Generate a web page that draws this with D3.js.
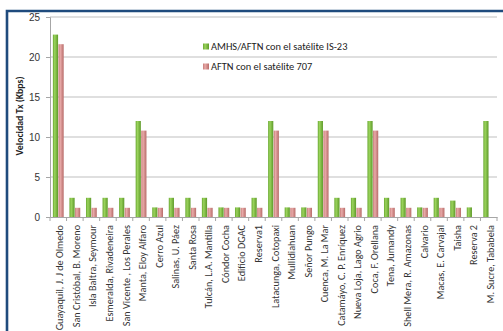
<!DOCTYPE html>
<html><head><meta charset="utf-8">
<script src="https://cdn.jsdelivr.net/npm/d3@7"></script>
<style>body{margin:0;background:#fff;}svg{display:block;font-family:Calibri,"Carlito","Liberation Sans",Arial,sans-serif;}</style>
</head><body>
<svg id="c" width="503" height="331"></svg>
<script>
const categories = ["Guayaquil, J. J de Olmedo","San Cristóbal, B. Moreno","Isla Baltra, Seymour","Esmeralda, Rivadeneira","San Vicente , Los Perales","Manta, Eloy Alfaro","Cerro Azul","Salinas, U. Páez","Santa Rosa","Tulcán, L.A. Mantilla","Cóndor Cocha","Edificio DGAC","Reserva1","Latacunga, Cotopaxi","Mullidiahuan","Señor Pungo","Cuenca, M. La Mar","Catamáyo, C. P. Enríquez","Nueva Loja, Lago Agrio","Coca, F. Orellana","Tena, Jumandy","Shell Mera, R. Amazonas","Calvario","Macas, E. Carvajal","Taisha","Reserva 2","M. Sucre, Tababela"];
const seriesIS23 = [22.8,2.4,2.4,2.4,2.4,12,1.2,2.4,2.4,2.4,1.2,1.2,2.4,12,1.2,1.2,12,2.4,2.4,12,2.4,2.4,1.2,2.4,2.05,1.2,12];
const series707 = [21.6,1.15,1.15,1.15,1.15,10.8,1.15,1.15,1.15,1.15,1.15,1.15,1.15,10.8,1.15,1.15,10.8,1.15,1.15,10.8,1.15,1.15,1.15,1.15,1.15,0,0];
const seriesNames = ["AMHS/AFTN con el satélite  IS-23","AFTN con el satélite  707"];
const yTicks = [0,5,10,15,20,25];

const svg = d3.select("#c");
const defs = svg.append("defs");
function grad(id, stops){
  const g = defs.append("linearGradient").attr("id",id).attr("x1","0").attr("x2","1").attr("y1","0").attr("y2","0");
  stops.forEach(s=>g.append("stop").attr("offset",s[0]).attr("stop-color",s[1]));
}
grad("gG",[[0,"#6aa832"],[0.35,"#9ad35c"],[1,"#5e9a2a"]]);
grad("gR",[[0,"#c77b79"],[0.35,"#e8aaa8"],[1,"#b86c6a"]]);

// frame
svg.append("path").attr("d","M7,335 V11 H510").attr("fill","none").attr("stroke","#1f4b7d").attr("stroke-width",2.6);

const m = {l:50, r:497, t:17, b:217};
const x = d3.scaleBand().domain(categories).range([m.l, m.r]).paddingInner(0).paddingOuter(0);
const y = d3.scaleLinear().domain([0,25]).range([m.b, m.t]);

// gridlines
svg.append("g").selectAll("line").data(yTicks.filter(d=>d>0)).join("line")
  .attr("x1",m.l).attr("x2",m.r).attr("y1",d=>y(d)).attr("y2",d=>y(d))
  .attr("stroke","#c0c0c0").attr("stroke-width",1.2);

// y axis
const ya = svg.append("g").attr("transform",`translate(${m.l},0)`)
  .call(d3.axisLeft(y).tickValues(yTicks).tickSize(4).tickPadding(6));
ya.select(".domain").attr("stroke","#a6a6a6");
ya.selectAll(".tick line").attr("stroke","#a6a6a6");
ya.selectAll("text").attr("font-size",10).attr("fill","#333");

// x axis
const xa = svg.append("g").attr("transform",`translate(0,${m.b})`)
  .call(d3.axisBottom(x).tickSize(0).tickFormat(""));
xa.select(".domain").attr("stroke","#a6a6a6");
svg.append("g").selectAll("line").data(categories.concat(["__end"])).join("line")
  .attr("x1",(d,i)=>m.l+i*x.bandwidth()).attr("x2",(d,i)=>m.l+i*x.bandwidth())
  .attr("y1",m.b).attr("y2",m.b+4).attr("stroke","#a6a6a6");

// x labels
svg.append("g").selectAll("text").data(categories).join("text")
  .attr("transform",d=>`translate(${x(d)+x.bandwidth()/2+5},${m.b+8}) rotate(-90)`)
  .attr("text-anchor","end").attr("font-size",10.2).attr("fill","#333").text(d=>d);

// bars
const bw = 5.2;
const g1 = svg.append("g");
g1.selectAll("rect.a").data(seriesIS23).join("rect").attr("class","a")
  .attr("x",(d,i)=>x(categories[i])+x.bandwidth()/2-bw-0.2).attr("width",bw)
  .attr("y",d=>y(d)).attr("height",d=>m.b-y(d)).attr("fill","url(#gG)");
g1.selectAll("rect.b").data(series707).join("rect").attr("class","b")
  .attr("x",(d,i)=>x(categories[i])+x.bandwidth()/2+0.2).attr("width",bw)
  .attr("y",d=>y(d)).attr("height",d=>m.b-y(d)).attr("fill","url(#gR)");

// y title
svg.append("text").attr("transform","translate(23,116) rotate(-90)")
  .attr("text-anchor","middle").attr("font-size",9.8).attr("font-weight","bold").attr("fill","#222")
  .text("Velocidad Tx (Kbps)");

// legend
const lg = svg.append("g");
const lc = ["url(#gG)","url(#gR)"];
const ly = [47,67];
seriesNames.forEach((n,i)=>{
  lg.append("rect").attr("x",203).attr("y",ly[i]-3.5).attr("width",6).attr("height",6).attr("fill",lc[i]);
  lg.append("text").attr("x",211).attr("y",ly[i]+3.2).attr("font-size",10.4).attr("fill","#222").text(n);
});
</script>
</body></html>
